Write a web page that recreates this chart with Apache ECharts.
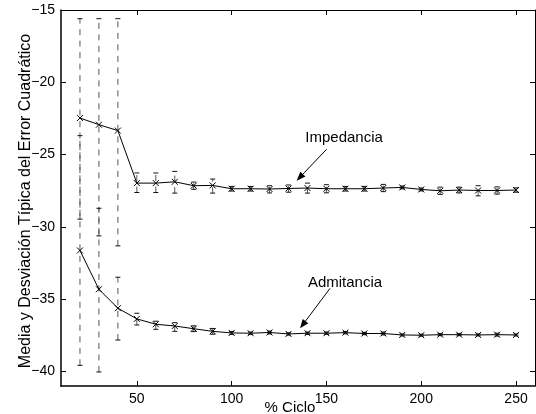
<!DOCTYPE html>
<html>
<head>
<meta charset="utf-8">
<script src="https://cdn.jsdelivr.net/npm/echarts@6/dist/echarts.min.js"></script>
<style>
html,body{margin:0;padding:0;background:#fff}
#c{width:536px;height:414px}
</style>
</head>
<body>
<div id="c"></div>
<script>
// % of cycle used for each estimate
const cycle = [20,30,40,50,60,70,80,90,100,110,120,130,140,150,160,170,180,190,200,210,220,230,240,250];

// Impedance model: mean error and the ends of its deviation bars
const impMean = [-22.47,-22.93,-23.34,-26.97,-26.97,-26.88,-27.15,-27.13,-27.36,-27.36,-27.38,-27.34,-27.31,-27.36,-27.36,-27.36,-27.31,-27.27,-27.41,-27.50,-27.45,-27.48,-27.48,-27.45];
const impHi   = [-15.6,-15.6,-15.6,-26.27,-26.27,-26.16,-26.9,-26.69,-27.2,-27.2,-27.15,-27.1,-26.97,-27.08,-27.2,-27.2,-27.06,-27.17,-27.31,-27.25,-27.25,-27.15,-27.23,-27.3];
const impLo   = [-29.46,-30.62,-31.31,-27.62,-27.62,-27.66,-27.4,-27.66,-27.52,-27.52,-27.65,-27.6,-27.66,-27.64,-27.52,-27.52,-27.56,-27.37,-27.51,-27.75,-27.65,-27.85,-27.73,-27.6];

// Admittance model
const admMean = [-31.63,-34.31,-35.62,-36.36,-36.73,-36.85,-37.04,-37.22,-37.33,-37.35,-37.30,-37.40,-37.35,-37.35,-37.31,-37.37,-37.37,-37.47,-37.49,-37.45,-37.45,-37.47,-37.45,-37.47];
const admHi   = [-23.69,-28.71,-33.48,-35.97,-36.52,-36.62,-36.84,-37.02,-37.23,-37.27,-37.2,-37.32,-37.27,-37.27,-37.23,-37.29,-37.27,-37.4,-37.42,-37.38,-37.38,-37.4,-37.35,-37.4];
const admLo   = [-39.57,-40.03,-37.82,-36.78,-37.08,-37.22,-37.24,-37.42,-37.43,-37.43,-37.4,-37.48,-37.43,-37.43,-37.39,-37.45,-37.47,-37.54,-37.56,-37.52,-37.52,-37.54,-37.55,-37.54];

// Axis ticks
const xTicks = [50,100,150,200,250];
const yTicks = [-40,-35,-30,-25,-20,-15];

// Callouts: label position, arrow tail, arrow tip (data coordinates)
const callouts = [
  {text:'Impedancia', at:[159.3,-23.85], from:[150.1,-24.63], to:[134.3,-26.8]},
  {text:'Admitancia', at:[159.8,-33.88], from:[151.9,-34.25], to:[136.1,-37.01]}
];

const FONT = "'Liberation Sans', Arial, Helvetica, sans-serif";
const fmt = v => String(v).replace('-', '\u2212');

function zip(a, b, c) { return a.map((v, i) => [v, b[i], c[i]]); }

function errorBars(params, api) {
  const x = api.value(0);
  const lo = api.coord([x, api.value(1)]);
  const hi = api.coord([x, api.value(2)]);
  const w = 2.5;
  const cap = {stroke:'#111', lineWidth:1};
  return {
    type:'group',
    children:[
      {type:'line', shape:{x1:lo[0], y1:lo[1], x2:hi[0], y2:hi[1]},
       style:{stroke:'#555', lineWidth:1, lineDash:[6,5.5]}},
      {type:'line', shape:{x1:hi[0]-w, y1:hi[1], x2:hi[0]+w, y2:hi[1]}, style:cap},
      {type:'line', shape:{x1:lo[0]-w, y1:lo[1], x2:lo[0]+w, y2:lo[1]}, style:cap}
    ]
  };
}

const crossSymbol = 'path://M0,0L10,10M10,0L0,10';

function meanLine(name, values) {
  return {
    name, type:'line', data: cycle.map((x, i) => [x, values[i]]),
    symbol: crossSymbol, symbolSize: 6, z: 5,
    lineStyle:{color:'#000', width:1},
    itemStyle:{color:'none', borderColor:'#000', borderWidth:1},
    emphasis:{disabled:true}, animation:false
  };
}

function frameAxis(pos, isX, main) {
  return {
    type:'value', position: pos,
    min: isX ? 10 : -41, max: isX ? 260 : -15,
    splitLine:{show:false},
    axisLine:{show:true, onZero:false, lineStyle:{color:'#000', width: main ? 1.5 : 1}},
    axisTick:{show:true, inside:true, length:5, lineStyle:{color:'#000', width:1},
              customValues: isX ? xTicks : yTicks},
    axisLabel:{show: main, customValues: isX ? xTicks : yTicks, formatter: fmt,
               color:'#000', fontFamily: FONT, fontSize:14, margin:6}
  };
}

const chart = echarts.init(document.getElementById('c'), null, {renderer:'canvas'});
chart.setOption({
  animation:false,
  backgroundColor:'#fff',
  grid:{left:61, right:1, top:10, bottom:28, containLabel:false},
  xAxis:[frameAxis('bottom', true, true), frameAxis('top', true, false)],
  yAxis:[frameAxis('left', false, true), frameAxis('right', false, false)],
  series:[
    {type:'custom', renderItem: errorBars, data: zip(cycle, impLo, impHi), encode:{x:0, y:[1,2]}, z:2, silent:true},
    {type:'custom', renderItem: errorBars, data: zip(cycle, admLo, admHi), encode:{x:0, y:[1,2]}, z:2, silent:true},
    meanLine('Impedancia', impMean),
    meanLine('Admitancia', admMean)
  ]
});

// Axis titles and callout arrows
const graphics = [
  {type:'text', x:26, y:201, rotation:Math.PI/2,
   style:{text:'Media y Desviación Típica del Error Cuadrático', fill:'#000', font:'16px ' + FONT,
          align:'center', verticalAlign:'middle'}},
  {type:'text', x:290, y:408,
   style:{text:'% Ciclo', fill:'#000', font:'15px ' + FONT, align:'center', verticalAlign:'middle'}}
];
callouts.forEach(c => {
  const t = chart.convertToPixel({gridIndex:0}, c.at);
  const a = chart.convertToPixel({gridIndex:0}, c.from);
  const b = chart.convertToPixel({gridIndex:0}, c.to);
  const ang = Math.atan2(b[1]-a[1], b[0]-a[0]);
  const L = 9, W = 3.5;
  const bx = b[0] - L*Math.cos(ang), by = b[1] - L*Math.sin(ang);
  const nx = -Math.sin(ang), ny = Math.cos(ang);
  graphics.push(
    {type:'text', x:t[0], y:t[1], style:{text:c.text, fill:'#000', font:'15px ' + FONT, align:'center', verticalAlign:'middle'}},
    {type:'line', shape:{x1:a[0], y1:a[1], x2:bx, y2:by}, style:{stroke:'#000', lineWidth:1}},
    {type:'polygon', shape:{points:[[b[0],b[1]],[bx+nx*W,by+ny*W],[bx-nx*W,by-ny*W]]}, style:{fill:'#000'}}
  );
});
chart.setOption({graphic: graphics});
</script>
</body>
</html>
